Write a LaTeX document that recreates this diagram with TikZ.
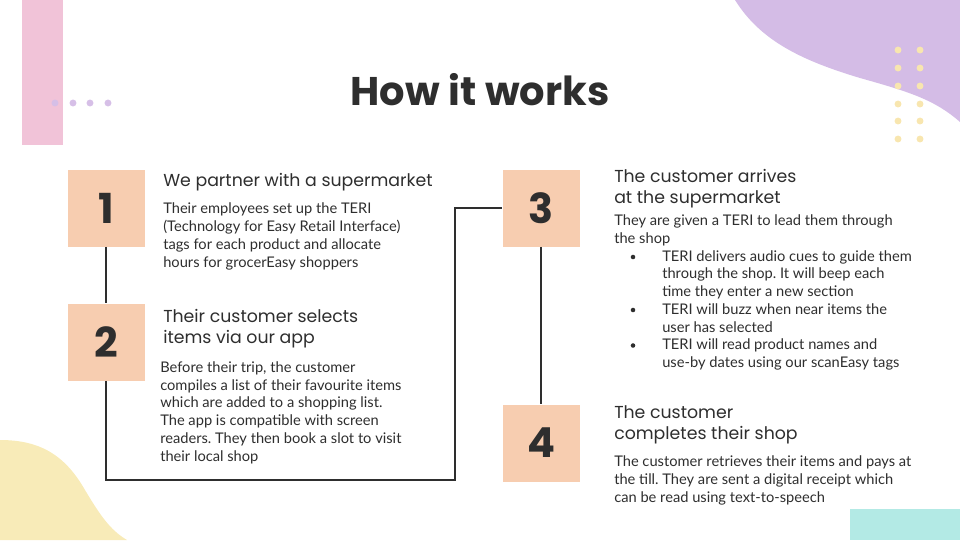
\documentclass[tikz,border=0pt]{standalone}
\usepackage{fontspec}
\setmainfont{Lato}
\newfontfamily\headfont{Poppins}
\usetikzlibrary{positioning}
\definecolor{Peach}{HTML}{F7CDB0}
\definecolor{Blush}{HTML}{F1C3D8}
\definecolor{Lilac}{HTML}{D4BCE6}
\definecolor{Butter}{HTML}{F8EBB8}
\definecolor{Mint}{HTML}{B3EAE5}
\definecolor{Ink}{HTML}{2E2E2E}
\frenchspacing

\begin{document}
\begin{tikzpicture}[x=0.75pt,y=-0.75pt,
  num/.style={rectangle,fill=Peach,minimum width=57.75pt,minimum height=57.75pt,inner sep=0pt,font=\headfont\bfseries\fontsize{31}{31}\selectfont,text=Ink},
  head/.style={anchor=base west,align=left,inner sep=0pt,font=\headfont\fontsize{13}{16.2}\selectfont,text=Ink},
  body/.style={anchor=base west,align=left,inner sep=0pt,font=\fontsize{11}{13.3}\selectfont,text=Ink},
  blob/.style={circle,inner sep=0pt,minimum size=5.2pt,fill=#1},
  bul/.style={circle,inner sep=0pt,minimum size=3.4pt,fill=Ink},
  link/.style={draw=Ink,line width=0.8pt}
]
  \useasboundingbox (0,0) rectangle (960,540);
  % background shapes
  \fill[Blush] (22,0) rectangle (63,145);
  \fill[Lilac] (735,0) .. controls (760,40) and (800,60) .. (860,78) .. controls (910,92) and (935,100) .. (960,122) -- (960,0) -- cycle;
  \fill[Butter] (0,440) .. controls (40,440) and (65,455) .. (85,490) .. controls (100,515) and (110,530) .. (127,540) -- (0,540) -- cycle;
  \fill[Mint] (850,509) rectangle (960,540);
  \foreach \i/\x in {1/55,2/73,3/90,4/108}
    \node[blob=Lilac!95!white] (l\i) at (\x,103) {};
  \foreach \i/\y in {1/50,2/68,3/86,4/104,5/121,6/139} {
    \node[blob=Butter!95!orange] (ya\i) at (898,\y) {};
    \node[blob=Butter!95!orange] (yb\i) at (920,\y) {};
  }

  \node[font=\headfont\bfseries\fontsize{30}{30}\selectfont,text=Ink] (title) at (480,90) {How it works};

  % steps (text nodes sit on the baseline of their last line)
  \node[num] (n1) at (106,208) {1};
  \node[num] (n2) at (106,342) {2};
  \node[num] (n3) at (541,208) {3};
  \node[num] (n4) at (541,443) {4};

  \node[head] (h1) at (163,186) {We partner with a supermarket};
  \node[body] (t1) at (163,267) {Their employees set up the TERI\\(Technology for Easy Retail Interface)\\tags for each product and allocate\\hours for grocerEasy shoppers};

  \node[head] (h2) at (163,343.6) {Their customer selects\\items via our app};
  \node[body] (t2) at (160,461) {Before their trip, the customer\\compiles a list of their favourite items\\which are added to a shopping list.\\The app is compatible with screen\\readers. They then book a slot to visit\\their local shop};

  \node[head] (h3) at (614,203.6) {The customer arrives\\at the supermarket};
  \node[body] (t3) at (614,243) {They are given a TERI to lead them through\\the shop};
  \node[bul] (d1) at (633,257) {};
  \node[body] (i1) at (662,296.5) {TERI delivers audio cues to guide them\\through the shop. It will beep each\\time they enter a new section};
  \node[bul] (d2) at (633,310) {};
  \node[body] (i2) at (662,332) {TERI will buzz when near items the\\user has selected};
  \node[bul] (d3) at (633,345.5) {};
  \node[body] (i3) at (662,367.5) {TERI will read product names and\\use-by dates using our scanEasy tags};

  \node[head] (h4) at (614,439.6) {The customer\\completes their shop};
  \node[body] (t4) at (614,502) {The customer retrieves their items and pays at\\the till. They are sent a digital receipt which\\can be read using text-to-speech};

  \coordinate (bend) at (455,480);
  \draw[link] (n1) -- (n2);
  \draw[link] (n2.south) |- (bend) |- (n3.west);
  \draw[link] (n3) -- (n4);
\end{tikzpicture}
\end{document}
